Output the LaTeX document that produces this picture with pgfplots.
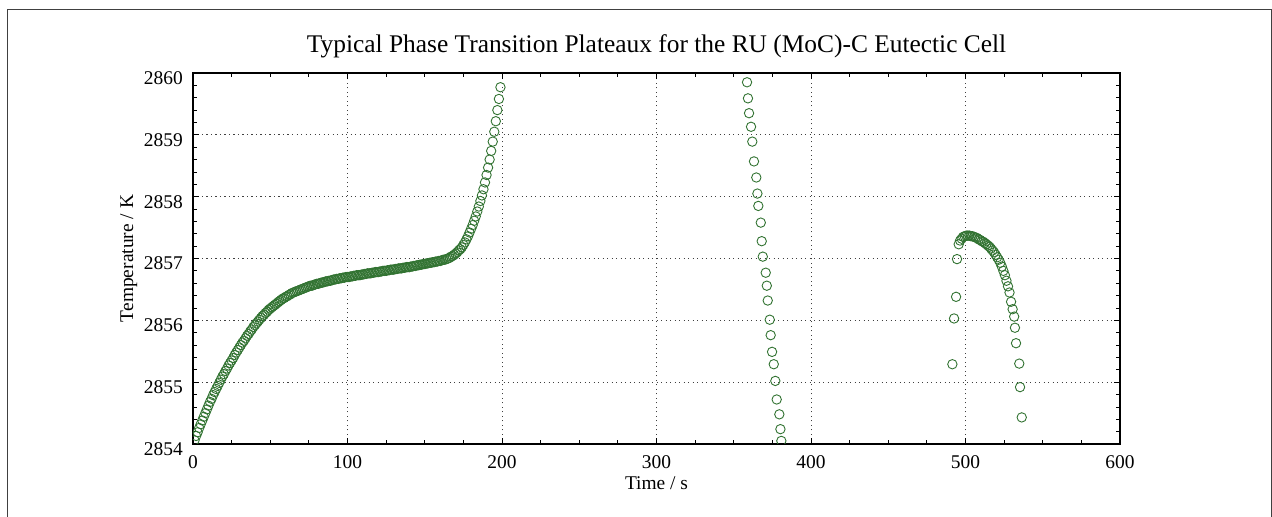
\documentclass[border=0pt]{standalone}
\usepackage{pgfplots}
\pgfplotsset{compat=1.18}
\usepackage{fontspec}
\setmainfont{Liberation Serif}
\definecolor{mk}{RGB}{50,115,50}
\begin{document}
\begin{tikzpicture}[x=1bp,y=1bp]
\useasboundingbox (-193,-73) rectangle (1079,444);
\draw[line width=1bp, black!75] (-185,-90) -- (-185,434) -- (1078,434) -- (1078,-90);
\begin{axis}[
  at={(0,0)}, anchor=south west,
  width=927bp, height=371bp, scale only axis,
  xmin=0, xmax=600, ymin=2854, ymax=2860,
  xtick distance=100, ytick distance=1,
  minor x tick num=3, minor y tick num=4,
  tick align=inside, xtick pos=both, ytick pos=both,
  major tick length=6bp, minor tick length=4bp,
  every tick/.style={black, line width=0.8bp},
  axis line style={black, line width=1.3bp},
  grid=major,
  major grid style={black!75, line width=0.8bp, dash pattern=on 1.2bp off 3.3bp},
  /pgf/number format/assume math mode=true,
  /pgf/number format/1000 sep={},
  ticklabel style={font=\fontsize{19.5}{22}\selectfont},
  xticklabel style={anchor=north, inner sep=0pt},
  xticklabel shift=11bp,
  yticklabel style={anchor=east, inner sep=0pt, yshift=-5bp},
  yticklabel shift=10bp,
  title={Typical Phase Transition Plateaux for the RU (MoC)-C Eutectic Cell},
  title style={font=\fontsize{25.5}{29}\selectfont, at={(axis description cs:0.5,1.0404)}, anchor=base, inner sep=0pt},
  xlabel={Time / s},
  xlabel style={font=\fontsize{19.5}{22}\selectfont, at={(axis description cs:0.5,-0.124)}, anchor=base, inner sep=0pt},
  ylabel={Temperature / K},
  ylabel style={font=\fontsize{19.5}{22}\selectfont, at={(axis description cs:-0.0647,0.5)}, anchor=base, inner sep=0pt},
  clip marker paths=true,
]
\addplot[only marks, mark=o, mark size=4.7bp, mark options={draw=mk, line width=0.9bp}] table {
t T
1 2854.06
2 2854.13
3 2854.19
4 2854.26
5 2854.32
6 2854.38
7 2854.44
8 2854.50
9 2854.56
10 2854.62
11 2854.68
12 2854.73
13 2854.79
14 2854.84
15 2854.89
16 2854.94
17 2854.99
18 2855.04
19 2855.09
20 2855.13
21 2855.18
22 2855.22
23 2855.27
24 2855.31
25 2855.35
26 2855.39
27 2855.44
28 2855.48
29 2855.52
30 2855.56
31 2855.60
32 2855.64
33 2855.67
34 2855.71
35 2855.75
36 2855.78
37 2855.82
38 2855.85
39 2855.89
40 2855.92
41 2855.95
42 2855.98
43 2856.01
44 2856.04
45 2856.07
46 2856.09
47 2856.12
48 2856.14
49 2856.17
50 2856.19
51 2856.21
52 2856.23
53 2856.25
54 2856.27
55 2856.29
56 2856.31
57 2856.33
58 2856.35
59 2856.36
60 2856.38
61 2856.39
62 2856.41
63 2856.42
64 2856.44
65 2856.45
66 2856.46
67 2856.47
68 2856.48
69 2856.49
70 2856.50
71 2856.51
72 2856.52
73 2856.53
74 2856.54
75 2856.55
76 2856.56
77 2856.56
78 2856.57
79 2856.58
80 2856.59
81 2856.59
82 2856.60
83 2856.61
84 2856.61
85 2856.62
86 2856.63
87 2856.63
88 2856.64
89 2856.64
90 2856.65
91 2856.66
92 2856.66
93 2856.67
94 2856.67
95 2856.68
96 2856.68
97 2856.69
98 2856.69
99 2856.70
100 2856.70
101 2856.70
102 2856.71
103 2856.71
104 2856.72
105 2856.72
106 2856.73
107 2856.73
108 2856.73
109 2856.74
110 2856.74
111 2856.75
112 2856.75
113 2856.76
114 2856.76
115 2856.76
116 2856.77
117 2856.77
118 2856.78
119 2856.78
120 2856.78
121 2856.79
122 2856.79
123 2856.80
124 2856.80
125 2856.80
126 2856.81
127 2856.81
128 2856.82
129 2856.82
130 2856.82
131 2856.83
132 2856.83
133 2856.84
134 2856.84
135 2856.84
136 2856.85
137 2856.85
138 2856.86
139 2856.86
140 2856.86
141 2856.87
142 2856.87
143 2856.88
144 2856.88
145 2856.89
146 2856.89
147 2856.90
148 2856.90
149 2856.91
150 2856.91
151 2856.92
152 2856.92
153 2856.93
154 2856.93
155 2856.94
156 2856.94
157 2856.95
158 2856.95
159 2856.96
160 2856.96
161 2856.97
162 2856.98
163 2856.98
164 2856.99
165 2857.00
166 2857.01
167 2857.03
168 2857.04
169 2857.06
170 2857.08
171 2857.10
172 2857.13
173 2857.15
174 2857.18
175 2857.22
176 2857.26
177 2857.31
178 2857.36
179 2857.42
180 2857.48
181 2857.54
182 2857.61
183 2857.68
184 2857.76
185 2857.84
186 2857.93
187 2858.02
188 2858.12
189 2858.23
190 2858.35
191 2858.47
192 2858.60
193 2858.74
194 2858.89
195 2859.05
196 2859.22
197 2859.40
198 2859.58
199 2859.77
};
\addplot[only marks, mark=o, mark size=4.7bp, mark options={draw=mk, line width=0.9bp}] table {
t T
358.6 2859.85
359.2 2859.59
359.9 2859.35
361.2 2859.13
362.0 2858.89
363.1 2858.57
364.6 2858.31
365.3 2858.05
365.9 2857.85
367.5 2857.58
368.1 2857.28
368.8 2857.03
370.7 2856.77
371.4 2856.56
372.0 2856.32
373.3 2856.01
373.9 2855.76
374.8 2855.49
375.9 2855.29
376.9 2855.02
377.8 2854.72
379.5 2854.48
380.2 2854.24
380.8 2854.05
};
\addplot[only marks, mark=o, mark size=4.7bp, mark options={draw=mk, line width=0.9bp}] table {
t T
491.5 2855.29
492.6 2856.03
493.9 2856.38
494.5 2856.99
495.6 2857.23
496.5 2857.29
497.5 2857.32
498.5 2857.35
499.5 2857.36
500.5 2857.37
501.5 2857.37
502.5 2857.37
503.5 2857.36
504.5 2857.36
505.5 2857.35
506.5 2857.34
507.5 2857.33
508.5 2857.31
509.5 2857.30
510.5 2857.28
511.5 2857.27
512.5 2857.25
513.5 2857.23
514.5 2857.21
515.5 2857.19
516.5 2857.16
517.5 2857.13
518.5 2857.10
519.5 2857.06
520.5 2857.02
521.5 2856.98
522.5 2856.93
523.5 2856.87
524.5 2856.80
525.5 2856.73
526.5 2856.64
527.5 2856.55
528.5 2856.45
529.5 2856.30
530.5 2856.18
531.5 2856.06
532.0 2855.88
532.7 2855.63
534.8 2855.30
535.3 2854.92
536.4 2854.43
};
\end{axis}
\end{tikzpicture}
\end{document}
